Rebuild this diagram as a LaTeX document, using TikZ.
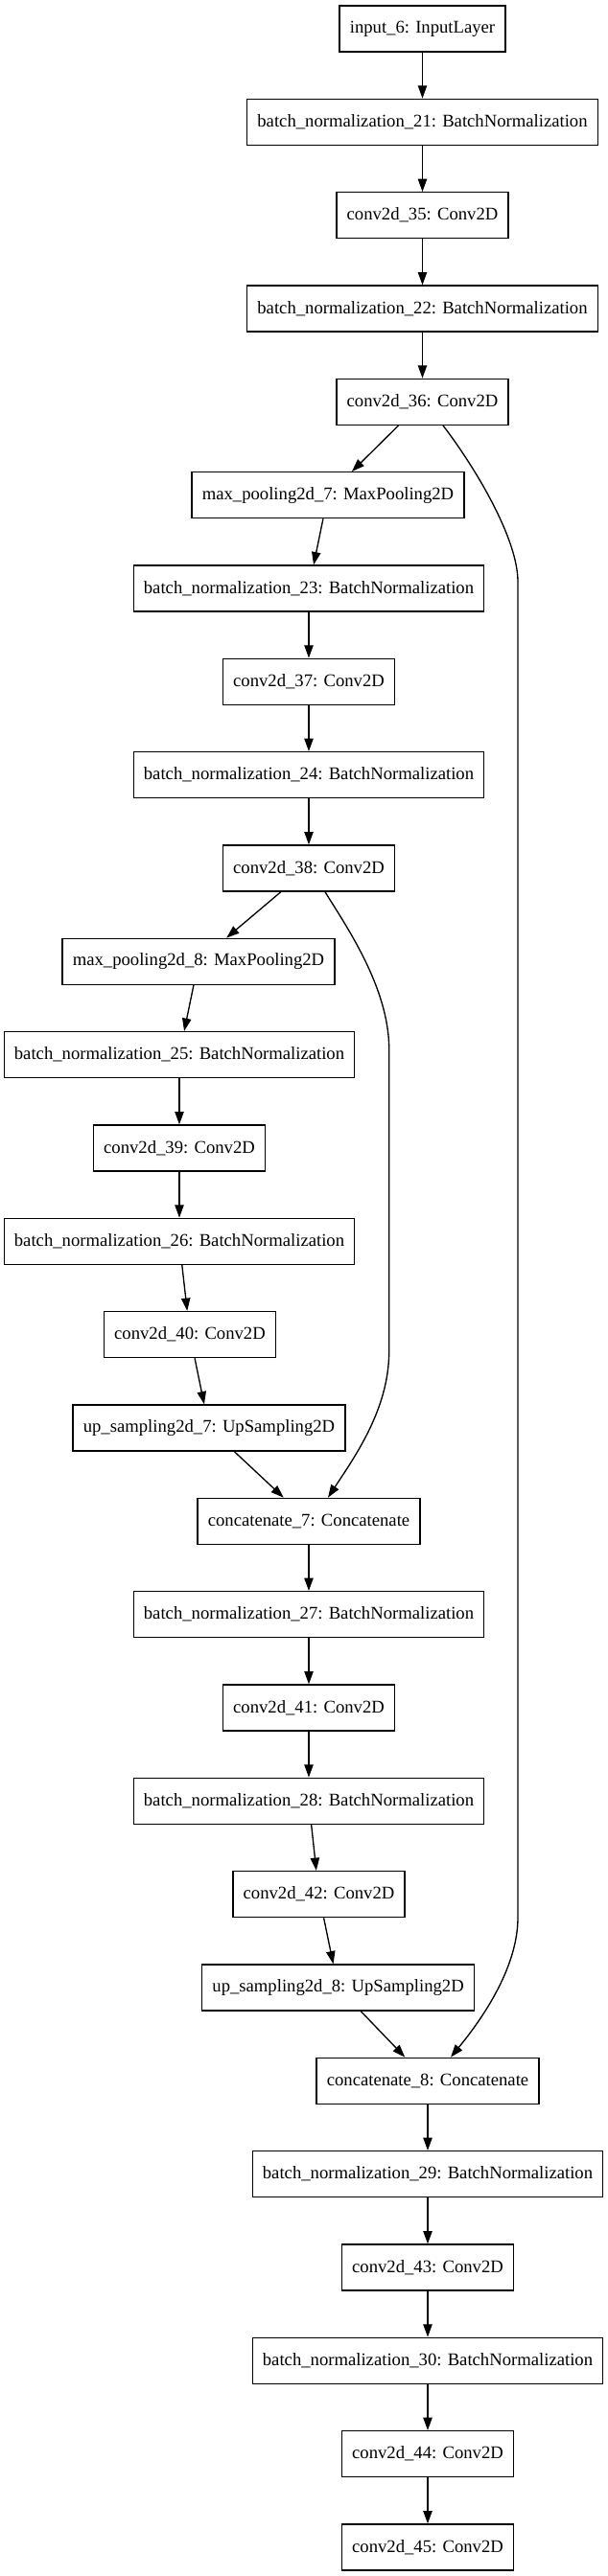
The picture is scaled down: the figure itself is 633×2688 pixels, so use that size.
\documentclass[tikz,border=0pt]{standalone}
\usepackage{fontspec}
\setmainfont{Liberation Serif}
\usetikzlibrary{arrows.meta}
\begin{document}
\begin{tikzpicture}[x=0.75pt,y=-0.75pt,
  layer/.style={draw=black,line width=1pt,rectangle,minimum height=36pt,inner xsep=8pt,inner ysep=4pt,
    font=\fontsize{14pt}{16pt}\selectfont},
  edge/.style={draw=black,line width=1pt,-{Triangle[length=10pt,width=7pt]}}]
\useasboundingbox (0,0) rectangle (633,2688);
\fill[white] (0,0) rectangle (633,2688);
\node[layer] (in6) at (440.5,30) {input\_6: InputLayer};
\node[layer] (bn21) at (440.5,127.3) {batch\_normalization\_21: BatchNormalization};
\node[layer] (c35) at (440.5,224.7) {conv2d\_35: Conv2D};
\node[layer] (bn22) at (440.5,322) {batch\_normalization\_22: BatchNormalization};
\node[layer] (c36) at (440.5,419.3) {conv2d\_36: Conv2D};
\node[layer] (mp7) at (342,516.7) {max\_pooling2d\_7: MaxPooling2D};
\node[layer] (bn23) at (322,614) {batch\_normalization\_23: BatchNormalization};
\node[layer] (c37) at (322,711.3) {conv2d\_37: Conv2D};
\node[layer] (bn24) at (322,808.6) {batch\_normalization\_24: BatchNormalization};
\node[layer] (c38) at (322,906) {conv2d\_38: Conv2D};
\node[layer] (mp8) at (207,1003.3) {max\_pooling2d\_8: MaxPooling2D};
\node[layer] (bn25) at (187,1100.6) {batch\_normalization\_25: BatchNormalization};
\node[layer] (c39) at (187,1198) {conv2d\_39: Conv2D};
\node[layer] (bn26) at (187,1295.3) {batch\_normalization\_26: BatchNormalization};
\node[layer] (c40) at (198,1392.6) {conv2d\_40: Conv2D};
\node[layer] (up7) at (218,1490) {up\_sampling2d\_7: UpSampling2D};
\node[layer] (cat7) at (322,1587.3) {concatenate\_7: Concatenate};
\node[layer] (bn27) at (322,1684.6) {batch\_normalization\_27: BatchNormalization};
\node[layer] (c41) at (322,1782) {conv2d\_41: Conv2D};
\node[layer] (bn28) at (322,1879.3) {batch\_normalization\_28: BatchNormalization};
\node[layer] (c42) at (332.5,1976.6) {conv2d\_42: Conv2D};
\node[layer] (up8) at (352.6,2074) {up\_sampling2d\_8: UpSampling2D};
\node[layer] (cat8) at (446,2171.3) {concatenate\_8: Concatenate};
\node[layer] (bn29) at (446,2268.6) {batch\_normalization\_29: BatchNormalization};
\node[layer] (c43) at (446,2366) {conv2d\_43: Conv2D};
\node[layer] (bn30) at (446,2463.3) {batch\_normalization\_30: BatchNormalization};
\node[layer] (c44) at (446,2560.6) {conv2d\_44: Conv2D};
\node[layer] (c45) at (446,2658) {conv2d\_45: Conv2D};
\draw[edge] (in6) -- (bn21);
\draw[edge] (bn21) -- (c35);
\draw[edge] (c35) -- (bn22);
\draw[edge] (bn22) -- (c36);
\draw[edge] (c36) -- (mp7);
\draw[edge] (mp7) -- (bn23);
\draw[edge] (bn23) -- (c37);
\draw[edge] (c37) -- (bn24);
\draw[edge] (bn24) -- (c38);
\draw[edge] (c38) -- (mp8);
\draw[edge] (mp8) -- (bn25);
\draw[edge] (bn25) -- (c39);
\draw[edge] (c39) -- (bn26);
\draw[edge] (bn26) -- (c40);
\draw[edge] (c40) -- (up7);
\draw[edge] (up7) -- (cat7);
\draw[edge] (cat7) -- (bn27);
\draw[edge] (bn27) -- (c41);
\draw[edge] (c41) -- (bn28);
\draw[edge] (bn28) -- (c42);
\draw[edge] (c42) -- (up8);
\draw[edge] (up8) -- (cat8);
\draw[edge] (cat8) -- (bn29);
\draw[edge] (bn29) -- (c43);
\draw[edge] (c43) -- (bn30);
\draw[edge] (bn30) -- (c44);
\draw[edge] (c44) -- (c45);
\draw[edge] ([xshift=16.1pt]c36.south) .. controls (492,483) and (540,560) .. (540,607)
  -- (540,2001) .. controls (540,2055) and (500,2110) .. ([xshift=18pt]cat8.north);
\draw[edge] ([xshift=12.75pt]c38.south) .. controls (360,965) and (405.7,1030) .. (405.7,1095)
  -- (405.7,1410) .. controls (405.7,1470) and (370,1520) .. ([xshift=15pt]cat7.north);
\end{tikzpicture}
\end{document}
